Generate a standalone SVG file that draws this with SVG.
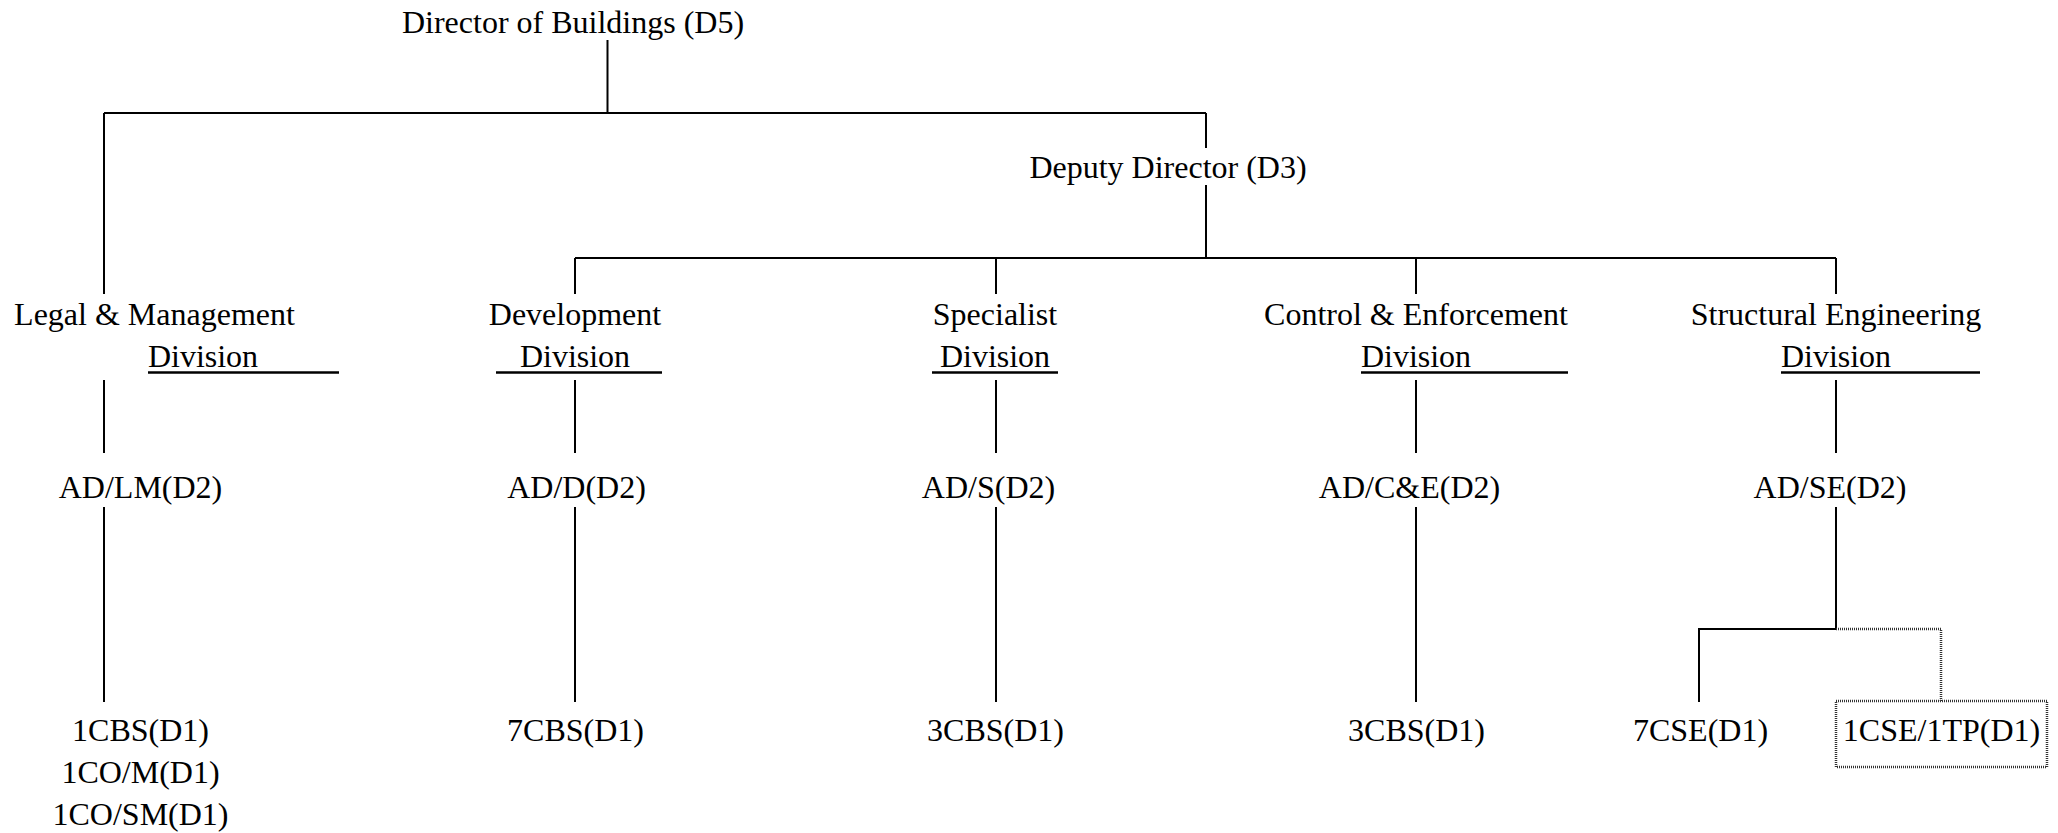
<svg xmlns="http://www.w3.org/2000/svg" width="2058" height="833" viewBox="0 0 2058 833">
<style>
text{font-family:"Liberation Serif","Times New Roman",serif;font-size:32px;fill:#000;text-anchor:middle}
.c{stroke:#000;stroke-width:2;fill:none}
.u{stroke:#000;stroke-width:2.5}
.d{stroke:#333;stroke-width:2.5;stroke-dasharray:1 1;fill:none}
</style>
<rect width="2058" height="833" fill="#fff"/>
<g id="connectors">
<path class="c" d="M607.5 40V113M104 113H1206M104 113V294M1206 113V148M1206 185V258M575 258H1836M575 258V294M996 258V294M1416 258V294M1836 258V294"/>
<path class="c" d="M104 380V453M575 380V453M996 380V453M1416 380V453M1836 380V453"/>
<path class="c" d="M104 507V702M575 507V702M996 507V702M1416 507V702M1836 507V629M1836 629H1699V702"/>
<path class="d" d="M1836 629H1941V701"/>
</g>
<g id="director"><text x="573" y="33">Director of Buildings (D5)</text></g>
<g id="deputy"><text x="1168" y="178">Deputy Director (D3)</text></g>
<g id="legal-div"><text x="154.5" y="325">Legal &amp; Management</text><text x="203" y="367">Division</text><line class="u" x1="148" y1="372.5" x2="339" y2="372.5"/></g>
<g id="dev-div"><text x="575" y="325">Development</text><text x="575" y="367">Division</text><line class="u" x1="496" y1="372.5" x2="662" y2="372.5"/></g>
<g id="spec-div"><text x="995" y="325">Specialist</text><text x="995" y="367">Division</text><line class="u" x1="932" y1="372.5" x2="1058" y2="372.5"/></g>
<g id="ce-div"><text x="1416" y="325">Control &amp; Enforcement</text><text x="1416" y="367">Division</text><line class="u" x1="1361" y1="372.5" x2="1568" y2="372.5"/></g>
<g id="se-div"><text x="1836" y="325">Structural Engineering</text><text x="1836" y="367">Division</text><line class="u" x1="1781" y1="372.5" x2="1980" y2="372.5"/></g>
<g id="ad-lm"><text x="140.5" y="498">AD/LM(D2)</text></g>
<g id="ad-d"><text x="576.5" y="498">AD/D(D2)</text></g>
<g id="ad-s"><text x="988.5" y="498">AD/S(D2)</text></g>
<g id="ad-ce"><text x="1409.5" y="498">AD/C&amp;E(D2)</text></g>
<g id="ad-se"><text x="1830" y="498">AD/SE(D2)</text></g>
<g id="lm-staff"><text x="140.5" y="741">1CBS(D1)</text><text x="140.5" y="783">1CO/M(D1)</text><text x="140.5" y="825">1CO/SM(D1)</text></g>
<g id="d-staff"><text x="575.5" y="741">7CBS(D1)</text></g>
<g id="s-staff"><text x="995.5" y="741">3CBS(D1)</text></g>
<g id="ce-staff"><text x="1416.5" y="741">3CBS(D1)</text></g>
<g id="se-staff1"><text x="1700.5" y="741">7CSE(D1)</text></g>
<g id="se-staff2"><rect class="d" x="1836" y="701" width="211" height="66"/><text x="1941.5" y="741">1CSE/1TP(D1)</text></g>
</svg>
